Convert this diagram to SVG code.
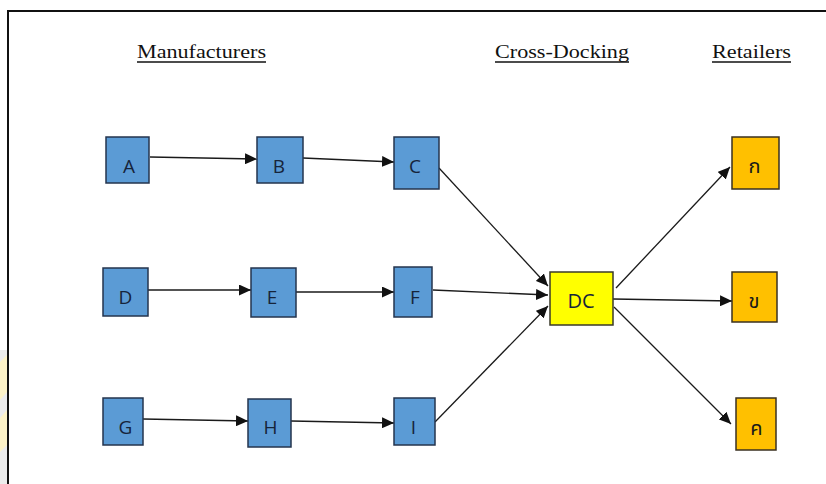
<svg xmlns="http://www.w3.org/2000/svg" width="826" height="484" viewBox="0 0 826 484">
  <style>
    .frame { stroke: #111; stroke-width: 2; fill: none; }
    .head { font-family: "Liberation Serif", "DejaVu Serif", serif; font-size: 18px; fill: #111; }
    .uline { stroke: #111; stroke-width: 1.3; }
    .mfr { fill: #5b9bd5; stroke: #24344d; stroke-width: 1.5; }
    .dc { fill: #ffff00; stroke: #3a3a2a; stroke-width: 1.5; }
    .ret { fill: #ffc000; stroke: #3a3020; stroke-width: 1.5; }
    .lbl { font-family: "Open Sans", "DejaVu Sans", sans-serif; font-size: 19px; fill: #16243a; text-anchor: middle; }
    .thai { font-family: "Noto Sans Thai", "Noto Sans", "Noto Sans CJK SC", "DejaVu Sans", sans-serif; font-size: 20px; fill: #1a1a1a; text-anchor: middle; }
    .edge { stroke: #1a1a1a; stroke-width: 1.3; fill: none; marker-end: url(#arrow); }
  </style>
  <defs>
    <marker id="arrow" markerUnits="userSpaceOnUse" markerWidth="12" markerHeight="11" refX="12" refY="5.5" orient="auto">
      <path d="M0,0 L12,5.5 L0,11 Z" fill="#111"/>
    </marker>
  </defs>

  <rect width="826" height="484" fill="#ffffff"/>
  <!-- faint edge marks at the left margin -->
  <rect x="0" y="350" width="7" height="134" fill="#ececec"/>
  <path d="M0,362 L7,355 L7,392 L0,400 Z" fill="#fdf3c8"/>
  <path d="M0,418 L7,410 L7,445 L0,452 Z" fill="#fdf3c8"/>

  <!-- frame -->
  <path class="frame" d="M8,484 L8,11 L826,11"/>

  <!-- column headings -->
  <g id="headings">
    <text class="head" x="137" y="58" textLength="129" lengthAdjust="spacingAndGlyphs">Manufacturers</text>
    <line class="uline" x1="137" y1="62" x2="266" y2="62"/>
    <text class="head" x="495" y="58" textLength="134" lengthAdjust="spacingAndGlyphs">Cross-Docking</text>
    <line class="uline" x1="495" y1="62" x2="629" y2="62"/>
    <text class="head" x="712" y="58" textLength="79" lengthAdjust="spacingAndGlyphs">Retailers</text>
    <line class="uline" x1="712" y1="62" x2="791" y2="62"/>
  </g>

  <!-- connectors -->
  <g id="connectors">
    <path class="edge" d="M150,157 L257,159"/>
    <path class="edge" d="M303,158 L394,162"/>
    <path class="edge" d="M148,290 L251,290"/>
    <path class="edge" d="M296,292 L394,292"/>
    <path class="edge" d="M143,419 L248,421"/>
    <path class="edge" d="M291,421 L394,423"/>
    <path class="edge" d="M439,168 L548,286"/>
    <path class="edge" d="M433,290 L548,295"/>
    <path class="edge" d="M435,422 L548,306"/>
    <path class="edge" d="M616,288 L730,167"/>
    <path class="edge" d="M613,299 L732,301"/>
    <path class="edge" d="M614,307 L731,424"/>
  </g>

  <!-- manufacturers -->
  <g id="node-A"><rect class="mfr" x="106" y="137" width="43" height="46"/><text class="lbl" x="129" y="173">A</text></g>
  <g id="node-B"><rect class="mfr" x="257" y="137" width="46" height="46"/><text class="lbl" x="279" y="173">B</text></g>
  <g id="node-C"><rect class="mfr" x="394" y="137" width="45" height="52"/><text class="lbl" x="415" y="173">C</text></g>
  <g id="node-D"><rect class="mfr" x="103" y="268" width="45" height="48"/><text class="lbl" x="125.5" y="304">D</text></g>
  <g id="node-E"><rect class="mfr" x="251" y="268" width="45" height="49"/><text class="lbl" x="272" y="304">E</text></g>
  <g id="node-F"><rect class="mfr" x="394" y="267" width="38" height="50"/><text class="lbl" x="415" y="304">F</text></g>
  <g id="node-G"><rect class="mfr" x="103" y="398" width="40" height="47"/><text class="lbl" x="125.5" y="434">G</text></g>
  <g id="node-H"><rect class="mfr" x="248" y="399" width="43" height="48"/><text class="lbl" x="270.5" y="434">H</text></g>
  <g id="node-I"><rect class="mfr" x="394" y="398" width="41" height="47"/><text class="lbl" x="413.5" y="434">I</text></g>

  <!-- cross-dock -->
  <g id="node-DC"><rect class="dc" x="550" y="272" width="63" height="53"/><text class="lbl" x="581" y="308" style="font-size:20px">DC</text></g>

  <!-- retailers -->
  <g id="node-ko"><rect class="ret" x="732" y="137" width="47" height="52"/><text class="thai" x="754.5" y="173">ก</text></g>
  <g id="node-kho"><rect class="ret" x="732" y="272" width="45" height="50"/><text class="thai" x="754" y="308">ข</text></g>
  <g id="node-kho-khwai"><rect class="ret" x="736" y="398" width="40" height="52"/><text class="thai" x="756.5" y="435">ค</text></g>
</svg>
